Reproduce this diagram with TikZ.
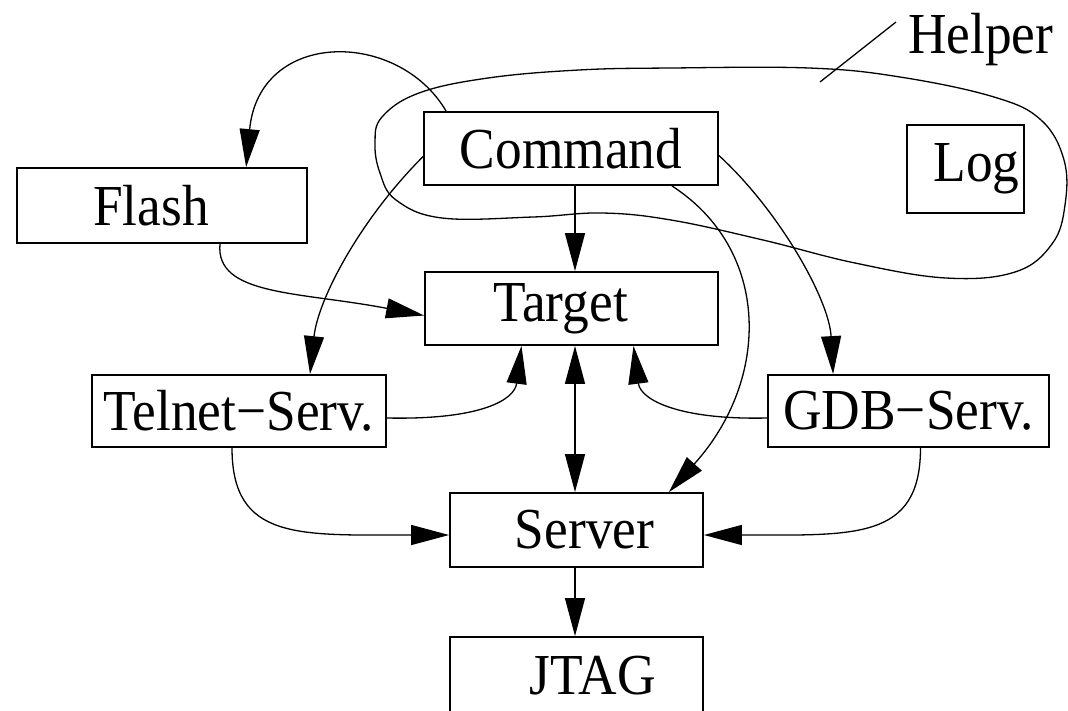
\documentclass[tikz,border=0pt]{standalone}
\usepackage{fontspec}
\setmainfont[FakeStretch=0.92]{Liberation Serif}
\usetikzlibrary{arrows.meta,calc}
\begin{document}
\begin{tikzpicture}[x=1pt,y=-1pt,
  lbl/.style={font=\fontsize{58}{64}\selectfont},
  box/.style={draw,line width=1.8pt,rectangle,inner sep=0pt,lbl},
  conn/.style={line width=1.3pt,-{Triangle[length=38pt,width=20pt]}},
  biconn/.style={line width=1.3pt,{Triangle[length=38pt,width=20pt]}-{Triangle[length=38pt,width=20pt]}},
  plain/.style={line width=1.3pt}]
\useasboundingbox (0,0) rectangle (1068,710);
\fill[white] (0,0) rectangle (1068,710);

% boxes
\node[box,minimum width=294pt,minimum height=73pt] (cmd)    at (571,148.5) {Command};
\node[box,minimum width=117pt,minimum height=88pt] (log)    at (965.5,169) {\hspace*{22pt}Log};
\node[box,minimum width=293pt,minimum height=73pt] (tgt)    at (571.5,308.5) {Target\hspace*{22pt}};
\node[box,minimum width=290pt,minimum height=75pt] (flash)  at (162,205.5) {Flash\hspace*{22pt}};
\node[box,minimum width=294pt,minimum height=72pt] (telnet) at (239,411) {Telnet−Serv.};
\node[box,minimum width=281pt,minimum height=72pt] (gdb)    at (908.5,411) {GDB−Serv.};
\node[box,minimum width=253pt,minimum height=74pt] (srv)    at (576.5,530) {\hspace*{16pt}Server};
\node[box,minimum width=253pt,minimum height=78pt] (jtag)   at (576.5,676) {\hspace*{32pt}JTAG};

% helper region and its tag
\node[lbl,anchor=base west,inner sep=0pt] (helper) at (908,53) {Helper};
\draw[plain] plot[smooth cycle,tension=0.65] coordinates {
  (375,143) (382,117) (419,93) (488,78) (579,70) (671,68) (809,68)
  (900,77) (994,97) (1041,120) (1064,160) (1065,205) (1052,244)
  (1015,272) (946,278) (855,263) (763,240) (671,220) (602,213)
  (533,217) (442,218) (396,200) (380,173)};
\coordinate (tagA) at (896,22);
\coordinate (tagB) at (820,82);
\draw[plain] (tagA) -- (tagB);

% vertical axis of the central column
\coordinate (axis) at (575,0);

% connectors
\draw[conn] ($(cmd.north west)+(23,0)$) .. controls +(-48,-82) and +(13,-138) .. ($(flash.north west)+(230,0)$);
\draw[conn] (axis |- cmd.south) -- (axis |- tgt.north);
\draw[conn] ($(cmd.west)+(0,8)$) .. controls +(-63,63) and +(8,-75) .. ($(telnet.north)+(71,0)$);
\draw[conn] ($(flash.south)+(58,0)$) .. controls +(-5,52) and +(-125,-24) .. ($(tgt.west)+(0,7)$);
\draw[conn] ($(cmd.south east)+(-47,0)$) .. controls +(99,64) and +(102,-113) .. ($(srv.north east)+(-35,0)$);
\draw[conn] ($(cmd.east)+(0,7)$) .. controls +(60,55) and +(-4,-75) .. ($(gdb.north west)+(66,0)$);
\draw[conn] ($(telnet.east)+(0,7)$) .. controls +(94,2) and +(-7,54) .. ($(tgt.south)+(-50,0)$);
\draw[conn] ($(gdb.west)+(0,7)$) .. controls +(-88,2) and +(7,54) .. ($(tgt.south)+(62,0)$);
\draw[biconn] (axis |- tgt.south) -- (axis |- srv.north);
\draw[conn] ($(telnet.south)+(-7,0)$) .. controls +(0,93) and +(-150,0) .. ($(srv.west)+(0,5)$);
\draw[conn] ($(gdb.south)+(12,0)$) .. controls +(0,93) and +(150,0) .. ($(srv.east)+(0,5)$);
\draw[conn] (axis |- srv.south) -- (axis |- jtag.north);
\end{tikzpicture}
\end{document}
